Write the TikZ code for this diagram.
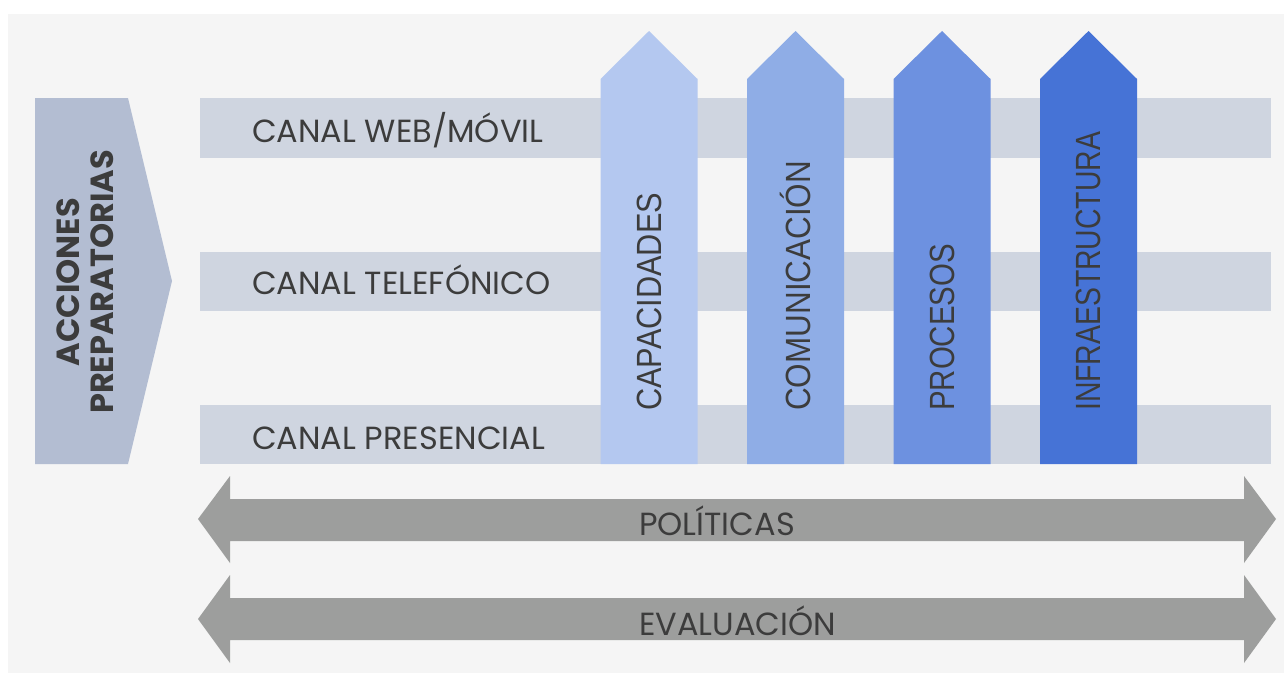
\documentclass[tikz,border=0pt]{standalone}
\usepackage{fontspec}
\setmainfont{Poppins}
\newfontfamily\lblfont[FakeStretch=0.84]{Liberation Sans}
\definecolor{bg}{HTML}{F5F5F5}
\definecolor{band}{HTML}{CFD5E0}
\definecolor{prep}{HTML}{B3BDD2}
\definecolor{cA}{HTML}{B4C8F0}
\definecolor{cB}{HTML}{8FADE6}
\definecolor{cC}{HTML}{6D91E0}
\definecolor{cD}{HTML}{4673D6}
\definecolor{arr}{HTML}{9D9E9D}
\definecolor{txt}{HTML}{3C3C3C}
\begin{document}
\begin{tikzpicture}[x=1pt,y=-1pt,
  chan/.style={text=txt, inner sep=0pt, anchor=base west, font=\fontsize{32}{40}\selectfont},
  vlbl/.style={text=txt, inner sep=0pt, rotate=90, anchor=west, font=\lblfont\fontsize{35}{40}\selectfont},
  hlbl/.style={text=txt, inner sep=0pt, anchor=base west, font=\fontsize{32}{40}\selectfont}]
\useasboundingbox (0,0) rectangle (1284,673);
\fill[white] (0,0) rectangle (1284,673);
\fill[bg] (8,14) rectangle (1284,673);
% preparatory pentagon
\fill[prep] (35,98) -- (128,98) -- (172,281) -- (128,464) -- (35,464) -- cycle;
% channel bands
\fill[band] (200,98) rectangle (1271,158);
\fill[band] (200,252) rectangle (1271,311);
\fill[band] (200,405) rectangle (1271,464);
% vertical arrows
\foreach \cx/\col in {649/cA, 795.5/cB, 942/cC, 1088.5/cD}{
  \fill[\col] (\cx-48.5,464) -- (\cx-48.5,79) -- (\cx,31) -- (\cx+48.5,79) -- (\cx+48.5,464) -- cycle;
}
% horizontal double arrows
\fill[arr] (198,519) -- (230,476) -- (230,499) -- (1244,499) -- (1244,476) -- (1276,519) -- (1244,563) -- (1244,541) -- (230,541) -- (230,563) -- cycle;
\fill[arr] (198,619) -- (230,575) -- (230,598) -- (1244,598) -- (1244,575) -- (1276,619) -- (1244,663) -- (1244,640) -- (230,640) -- (230,663) -- cycle;
% texts
\node[text=txt, rotate=90, align=center, inner sep=0pt, font=\bfseries\fontsize{32}{34}\selectfont] (prepl) at (85,282) {ACCIONES\\PREPARATORIAS};
\node[chan] (web) at (252,142) {CANAL WEB/MÓVIL};
\node[chan] (tel) at (252,294) {CANAL TELEFÓNICO};
\node[chan] (pres) at (252,449) {CANAL PRESENCIAL};
\node[vlbl, xscale=1.045] (cap) at (649,411) {CAPACIDADES};
\node[vlbl, xscale=1.07] (com) at (795.5,411) {COMUNICACIÓN};
\node[vlbl] (pro) at (942,411) {PROCESOS};
\node[vlbl, xscale=0.965] (inf) at (1088.5,411) {INFRAESTRUCTURA};
\node[hlbl] (pol) at (639,535) {POLÍTICAS};
\node[hlbl] (eva) at (639,635) {EVALUACIÓN};
\end{tikzpicture}
\end{document}
